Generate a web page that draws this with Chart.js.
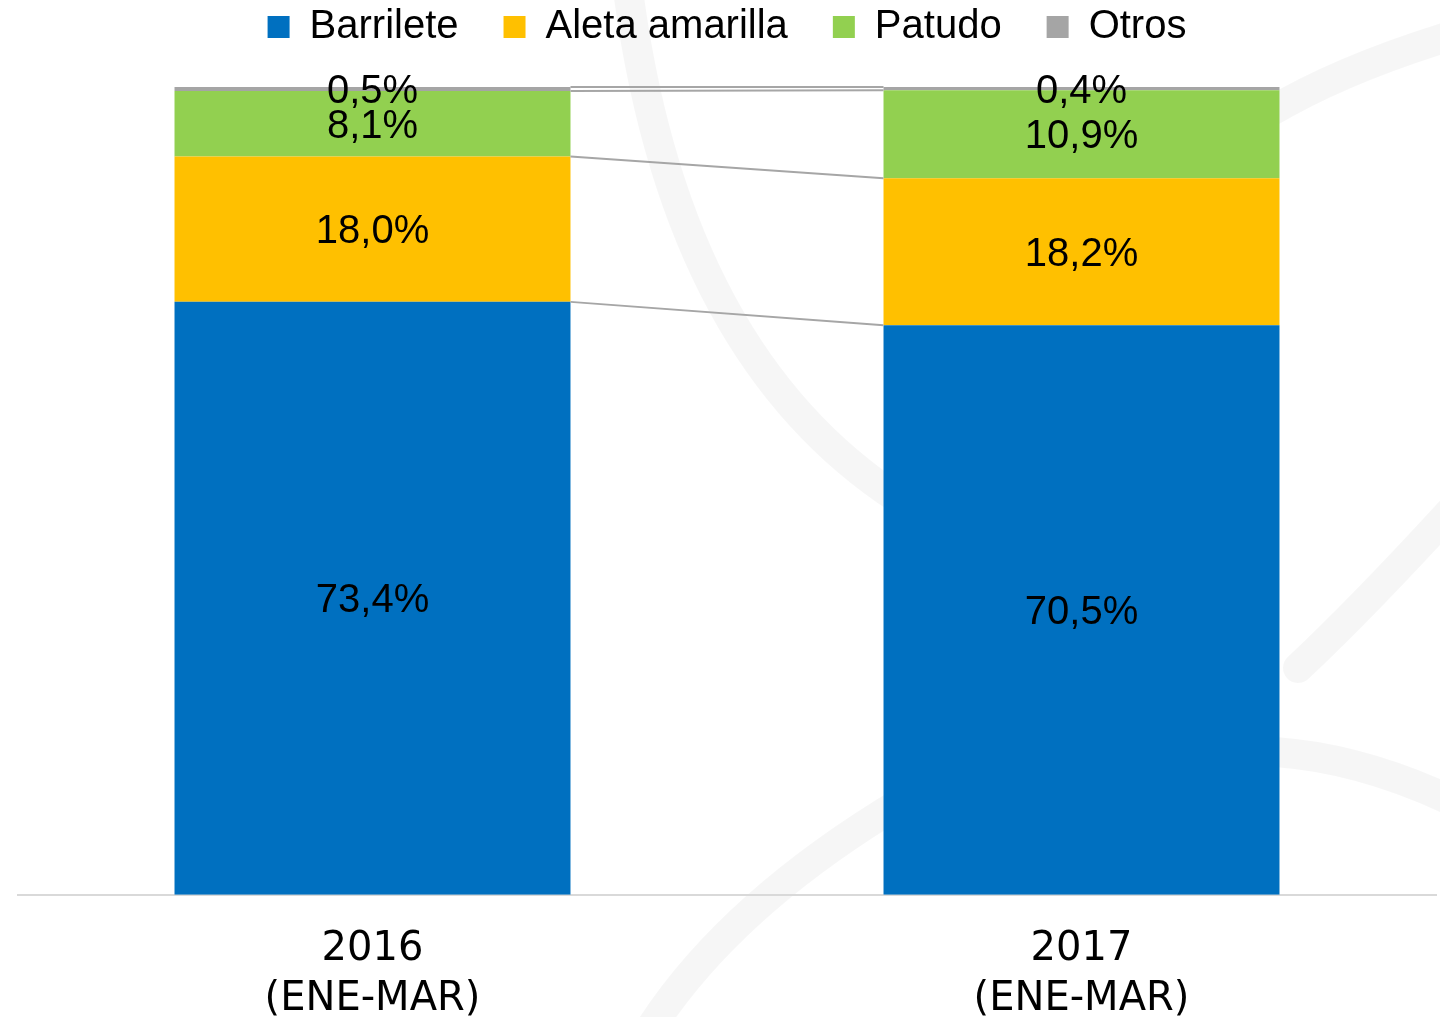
<!DOCTYPE html>
<html>
<head>
<meta charset="utf-8">
<script src="https://cdn.jsdelivr.net/npm/chart.js@4/dist/chart.umd.min.js"></script>
<style>
  html, body { margin: 0; padding: 0; background: #fff; }
  #wrap { width: 1440px; height: 1017px; position: relative; }
</style>
</head>
<body>
<div id="wrap"><canvas id="capturasChart"></canvas></div>
<script>
const periodos = [['2016', '(ENE-MAR)'], ['2017', '(ENE-MAR)']];
const especies = ['Barrilete', 'Aleta amarilla', 'Patudo', 'Otros'];
const barrilete = [73.4, 70.5];
const aletaAmarilla = [18.0, 18.2];
const patudo = [8.1, 10.9];
const otros = [0.5, 0.4];
const colores = ['#0070C0', '#FFC000', '#92D050', '#A5A5A5'];

// marca de agua de fondo (arcos grises muy suaves)
const fondo = {
    id: 'fondo',
    beforeDraw(chart) {
        const ctx = chart.ctx;
        ctx.save();
        ctx.fillStyle = '#fff';
        ctx.fillRect(0, 0, chart.width, chart.height);
        ctx.strokeStyle = 'rgba(0, 0, 0, 0.035)';
        ctx.lineWidth = 30;
        ctx.lineCap = 'round';
        const arcos = [
            [628, -10, 676, 355, 900, 500],
            [640, 1045, 720, 910, 905, 800],
            [1270, 112, 1340, 70, 1450, 36],
            [1298, 668, 1360, 610, 1450, 512],
            [1275, 752, 1360, 758, 1450, 800]
        ];
        arcos.forEach(a => {
            ctx.beginPath();
            ctx.moveTo(a[0], a[1]);
            ctx.quadraticCurveTo(a[2], a[3], a[4], a[5]);
            ctx.stroke();
        });
        ctx.restore();
    }
};

// lineas de serie entre las dos barras
const lineasSerie = {
    id: 'lineasSerie',
    afterDatasetsDraw(chart) {
        const ctx = chart.ctx;
        ctx.save();
        ctx.strokeStyle = '#A6A6A6';
        ctx.lineWidth = 2;
        chart.data.datasets.forEach((ds, i) => {
            const meta = chart.getDatasetMeta(i);
            const a = meta.data[0], b = meta.data[1];
            if (!a || !b) return;
            ctx.beginPath();
            ctx.moveTo(a.x + a.width / 2, a.y);
            ctx.lineTo(b.x - b.width / 2, b.y);
            ctx.stroke();
        });
        ctx.restore();
    }
};

// etiquetas de porcentaje
const etiquetas = {
    id: 'etiquetas',
    afterDatasetsDraw(chart) {
        const ctx = chart.ctx;
        ctx.save();
        ctx.font = '40px "Liberation Sans", Arial, sans-serif';
        ctx.fillStyle = '#000';
        ctx.textAlign = 'center';
        ctx.textBaseline = 'middle';
        chart.data.datasets.forEach((ds, i) => {
            chart.getDatasetMeta(i).data.forEach((bar, j) => {
                const txt = ds.data[j].toFixed(1).replace('.', ',') + '%';
                ctx.fillText(txt, bar.x, (bar.y + bar.base) / 2 + 3);
            });
        });
        ctx.restore();
    }
};

const series = [barrilete, aletaAmarilla, patudo, otros];

new Chart(document.getElementById('capturasChart'), {
    type: 'bar',
    data: {
        labels: periodos,
        datasets: series.map((d, i) => ({
            label: especies[i],
            data: d,
            backgroundColor: colores[i],
            borderWidth: 0,
            barPercentage: 0.5585,
            categoryPercentage: 1
        }))
    },
    options: {
        responsive: true,
        maintainAspectRatio: false,
        animation: false,
        layout: { padding: { top: -38, left: 18, right: 4, bottom: -37 } },
        plugins: {
            legend: {
                position: 'top',
                labels: {
                    boxWidth: 22,
                    boxHeight: 22,
                    padding: 45,
                    color: '#000',
                    font: { family: '"Liberation Sans", Arial, sans-serif', size: 40 }
                }
            },
            tooltip: { enabled: false }
        },
        scales: {
            x: {
                stacked: true,
                grid: { display: false, drawTicks: false },
                border: { display: true, color: '#D9D9D9', width: 2 },
                ticks: {
                    color: '#000',
                    padding: 30,
                    font: { family: '"DejaVu Sans", sans-serif', size: 40, lineHeight: 1.24 }
                }
            },
            xTop: {
                type: 'category',
                position: 'top',
                grid: { display: false },
                border: { display: false },
                ticks: { display: false },
                afterFit: s => { s.height = 30; }
            },
            y: {
                stacked: true,
                display: false,
                min: 0,
                max: 100
            }
        }
    },
    plugins: [fondo, lineasSerie, etiquetas]
});
</script>
</body>
</html>
